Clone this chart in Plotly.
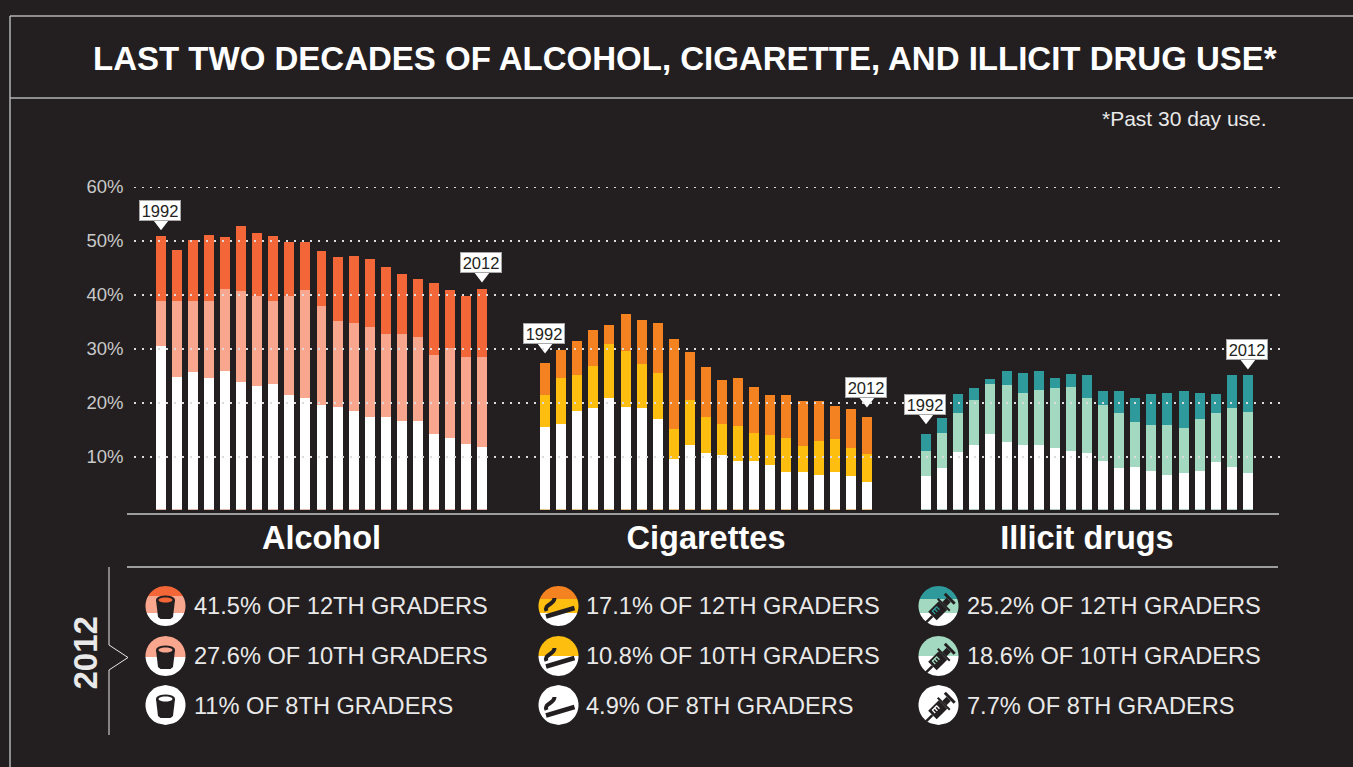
import math
import plotly.graph_objects as go

W, H = 1353, 767
BG = "#231f20"
FONT = "Liberation Sans"

years = list(range(1992, 2013))

alcohol_12 = [50.9,48.3,50.1,51.2,50.7,52.7,51.4,50.9,49.9,49.9,48.1,47.0,47.3,46.6,45.1,43.8,42.9,42.3,41.0,39.9,41.2]
alcohol_10 = [38.8,38.8,38.8,38.8,41.2,40.7,39.9,38.8,39.9,40.9,37.9,35.1,34.8,34.0,32.7,32.7,32.3,28.8,30.1,28.5,28.5]
alcohol_8 = [30.5,24.8,25.7,24.6,26.0,23.8,23.1,23.5,21.4,20.9,19.6,19.2,18.5,17.5,17.5,16.6,16.6,14.2,13.6,12.5,11.8]

cigarettes_12 = [27.5,29.8,31.4,33.6,34.4,36.4,35.3,34.8,31.8,29.4,26.6,24.2,24.6,22.9,21.4,21.4,20.3,20.3,19.4,18.8,17.5]
cigarettes_10 = [21.4,24.6,25.1,26.8,30.9,29.6,27.3,25.5,15.1,20.5,17.5,16.2,15.7,14.4,14.0,13.5,12.0,12.9,13.3,11.6,10.5]
cigarettes_8 = [15.5,16.2,18.5,19.0,21.0,19.2,19.0,17.0,9.6,12.2,10.7,10.3,9.2,9.2,8.6,7.3,7.2,6.6,7.2,6.4,5.3]

illicit_12 = [14.2,17.2,21.6,22.7,24.4,26.0,25.5,25.9,24.6,25.3,25.1,22.3,22.3,21.0,21.6,21.8,22.3,21.8,21.6,25.1,25.1]
illicit_10 = [11.2,14.4,18.1,20.5,23.6,23.3,21.8,22.5,22.7,22.9,20.9,19.6,18.1,16.4,15.9,15.9,15.3,17.0,18.1,19.0,18.3]
illicit_8 = [6.4,7.9,11.0,12.3,14.2,12.7,12.2,12.3,11.6,11.2,10.7,9.2,7.9,8.1,7.5,6.6,7.0,7.5,9.0,8.1,7.0]

panel_names = ["Alcohol", "Cigarettes", "Illicit drugs"]
grade_names = ["12th graders", "10th graders", "8th graders"]
alcohol_legend = ["41.5% OF 12TH GRADERS", "27.6% OF 10TH GRADERS", "11% OF 8TH GRADERS"]
cigarettes_legend = ["17.1% OF 12TH GRADERS", "10.8% OF 10TH GRADERS", "4.9% OF 8TH GRADERS"]
illicit_legend = ["25.2% OF 12TH GRADERS", "18.6% OF 10TH GRADERS", "7.7% OF 8TH GRADERS"]
grid_values = [10, 20, 30, 40, 50, 60]
grid_labels = ["10%", "20%", "30%", "40%", "50%", "60%"]

alcohol_colors = ["#f26638", "#f9a68f", "#ffffff"]
cigarettes_colors = ["#f58220", "#fdbe10", "#ffffff"]
illicit_colors = ["#2f9a9b", "#a3d9c1", "#ffffff"]

PX_PER_UNIT = (509.5 - 187) / (60 - 0.28)


def px(x):
    return x / W


def py(y):
    return 1 - y / H


panels = [
    dict(name=panel_names[0], series=[alcohol_12, alcohol_10, alcohol_8], colors=alcohol_colors,
         legend=alcohol_legend, dom=(153, 490), xaxis="x", icon_x=165.5, text_x=192.3, kind="cup",
         callout_up=(26, 26), bands=[(596, 613), (None, 657), (None, None)]),
    dict(name=panel_names[1], series=[cigarettes_12, cigarettes_10, cigarettes_8], colors=cigarettes_colors,
         legend=cigarettes_legend, dom=(537, 875), xaxis="x2", icon_x=558.5, text_x=584.3, kind="cig",
         callout_up=(29, 29), bands=[(599, 613), (None, 656), (None, None)]),
    dict(name=panel_names[2], series=[illicit_12, illicit_10, illicit_8], colors=illicit_colors,
         legend=illicit_legend, dom=(918, 1256), xaxis="x3", icon_x=938.5, text_x=965.3, kind="syr",
         callout_up=(30, 26), bands=[(599, 613), (None, 656), (None, None)]),
]

fig = go.Figure()
shapes = []
annotations = []


def poly(points, color):
    d = "M " + " L ".join(f"{px(x):.5f},{py(y):.5f}" for x, y in points) + " Z"
    return dict(type="path", xref="paper", yref="paper", path=d, fillcolor=color, line=dict(width=0))


def line_px(x0, y0, x1, y1, color, width, dash="solid", layer="above"):
    return dict(type="line", xref="paper", yref="paper", x0=px(x0), y0=py(y0), x1=px(x1), y1=py(y1),
                line=dict(color=color, width=width, dash=dash), layer=layer)


def disc_band(cx, cy, r, y0, y1, color):
    """Part of the disc between the horizontal lines y0 and y1 (pixels)."""
    y0, y1 = max(y0, cy - r), min(y1, cy + r)
    right, left = [], []
    n = 24
    for i in range(n + 1):
        y = y0 + (y1 - y0) * i / n
        dx = math.sqrt(max(r * r - (y - cy) ** 2, 0))
        right.append((cx + dx, y))
        left.append((cx - dx, y))
    return poly(right + left[::-1], color)


def ellipse_pts(cx, cy, rx, ry):
    return [(cx + rx * math.cos(a / 20 * 2 * math.pi), cy + ry * math.sin(a / 20 * 2 * math.pi)) for a in range(20)]


def thick(x0, y0, x1, y1, w, color):
    dx, dy = x1 - x0, y1 - y0
    n = math.hypot(dx, dy)
    ox, oy = -dy / n * w / 2, dx / n * w / 2
    return poly([(x0 + ox, y0 + oy), (x1 + ox, y1 + oy), (x1 - ox, y1 - oy), (x0 - ox, y0 - oy)], color)


def icon(kind, cx, cy, band_color):
    out = []
    if kind == "cup":
        out.append(poly([(cx - 9.5, cy - 6), (cx + 9.5, cy - 6), (cx + 7.5, cy + 11),
                         (cx + 5, cy + 13), (cx - 5, cy + 13), (cx - 7.5, cy + 11)], BG))
        out.append(poly(ellipse_pts(cx, cy - 6, 9.5, 4.5), BG))
        out.append(poly(ellipse_pts(cx, cy - 6, 7, 2.5), band_color))
    elif kind == "cig":
        out.append(thick(cx - 12.5, cy + 10.5, cx + 16, cy + 2, 4.5, BG))
        c = [(-12, 5), (-15, -2), (-4, -1), (-4, -8)]
        d = (f"M {px(cx + c[0][0]):.5f},{py(cy + c[0][1]):.5f} C "
             + " ".join(f"{px(cx + a):.5f},{py(cy + b):.5f}" for a, b in c[1:]))
        out.append(dict(type="path", xref="paper", yref="paper", path=d, line=dict(color=BG, width=4)))
    else:
        u = 0.7071
        def tr(a, b):
            # a runs along the syringe, from needle to plunger; b across it
            return (cx + 1 + a * u + b * u, cy + 3 - a * u + b * u)
        def seg(a0, a1, w, color=BG):
            p0, p1 = tr(a0, 0), tr(a1, 0)
            return thick(p0[0], p0[1], p1[0], p1[1], w, color)
        out.append(seg(-19, -10, 2.5))
        out.append(seg(-10, 5, 12))
        out.append(seg(5, 7, 17))
        out.append(seg(7, 13, 6))
        out.append(seg(13, 16, 14))
        for a in (-6.5, -3.5, -0.5):
            p0, p1 = tr(a, -3.5), tr(a, 0.5)
            out.append(thick(p0[0], p0[1], p1[0], p1[1], 1.3, band_color))
        p0, p1 = tr(-7, -3.5), tr(0, -3.5)
        out.append(thick(p0[0], p0[1], p1[0], p1[1], 1.3, band_color))
    return out


# bars
for p in panels:
    for vals, col, grade in zip(p["series"], p["colors"], grade_names):
        fig.add_trace(go.Bar(x=years, y=vals, marker=dict(color=col, line=dict(width=0)), width=0.62,
                             name=f"{p['name']} – {grade}", xaxis=p["xaxis"], yaxis="y", showlegend=False))
    top = p["series"][0]
    pts = ((years[0], top[0], p["callout_up"][0]), (years[-1], top[-1], p["callout_up"][1]))
    # callout pointers sit just above the bar tops
    fig.add_trace(go.Scatter(x=[a for a, _, _ in pts], y=[v + (up - 13) / PX_PER_UNIT for _, v, up in pts],
                             mode="markers", marker=dict(symbol="triangle-down", size=14, color="#ffffff",
                                                         line=dict(width=0)),
                             xaxis=p["xaxis"], yaxis="y", showlegend=False, hoverinfo="skip"))
    for yr, v, up in pts:
        annotations.append(dict(
            x=yr, y=v, xref=p["xaxis"], yref="y", yshift=up, xshift=-1, showarrow=False, text=str(yr),
            bgcolor="#ffffff", bordercolor="#a8a8a8", borderwidth=1, borderpad=0, width=40, height=19,
            font=dict(family=FONT, size=16.5, color=BG), align="center", xanchor="center", yanchor="middle"))

# dotted reference lines, above the bars
for v in grid_values:
    shapes.append(dict(type="line", xref="paper", yref="y", x0=px(134), x1=px(1280), y0=v, y1=v,
                       line=dict(color="#dcdcdc", width=1.8, dash="2px,6px"), layer="above"))

# frame and rules
frame_col = "#b4b4b4"
shapes += [
    line_px(10, 16, W, 16, frame_col, 1.5),
    line_px(10, 98, W, 98, frame_col, 1.5),
    line_px(10, 16, 10, H, frame_col, 1.5),
    line_px(127, 514, 1279, 514, "#c8c8c8", 1.5),
    line_px(127, 567, 1278, 567, "#c8c8c8", 1.5),
]
# bracket next to "2012"
for a, b in (((109, 567), (109, 645)), ((109, 645), (128, 657.5)), ((128, 657.5), (109, 670)), ((109, 670), (109, 735))):
    shapes.append(line_px(a[0], a[1], b[0], b[1], "#e8e8e8", 1))

# legend rows
row_y = [606, 656, 705]
text_y = [606, 656, 706]
for p in panels:
    for i, (label, cy, ty) in enumerate(zip(p["legend"], row_y, text_y)):
        cx = p["icon_x"]
        r = 20
        b1, b2 = p["bands"][i]
        if i == 0:
            shapes.append(disc_band(cx, cy, r, cy - r, b1, p["colors"][0]))
            shapes.append(disc_band(cx, cy, r, b1, b2, p["colors"][1]))
            shapes.append(disc_band(cx, cy, r, b2, cy + r, "#ffffff"))
        elif i == 1:
            shapes.append(disc_band(cx, cy, r, cy - r, b2, p["colors"][1]))
            shapes.append(disc_band(cx, cy, r, b2, cy + r, "#ffffff"))
        else:
            shapes.append(disc_band(cx, cy, r, cy - r, cy + r, "#ffffff"))
        shapes += icon(p["kind"], cx, cy, p["colors"][i])
        annotations.append(dict(x=px(p["text_x"]), y=py(ty), xref="paper", yref="paper", text=label,
                                showarrow=False, xanchor="left", yanchor="middle",
                                font=dict(family=FONT, size=23.6, color="#e9e9e9")))

annotations += [
    dict(x=px(685.5), y=py(59), xref="paper", yref="paper", text="<b>LAST TWO DECADES OF ALCOHOL, CIGARETTE, AND ILLICIT DRUG USE*</b>",
         showarrow=False, xanchor="center", yanchor="middle", font=dict(family=FONT, size=33, color="#ffffff")),
    dict(x=px(1268.5), y=py(119), xref="paper", yref="paper", text="*Past 30 day use.", showarrow=False,
         xanchor="right", yanchor="middle", font=dict(family=FONT, size=21, color="#e9e9e9")),
    dict(x=px(85), y=py(653.5), xref="paper", yref="paper", text="<b>2012</b>", textangle=-90, showarrow=False,
         xanchor="center", yanchor="middle", font=dict(family=FONT, size=33, color="#e9e9e9")),
]

layout = dict(
    width=W, height=H, margin=dict(l=0, r=0, t=0, b=0, pad=0, autoexpand=False), paper_bgcolor=BG, plot_bgcolor=BG,
    barmode="overlay", bargap=0, showlegend=False, shapes=shapes, annotations=annotations,
    font=dict(family=FONT),
    yaxis=dict(domain=[py(509.5), py(187)], range=[0.28, 60], anchor="free", position=px(123.5),
               tickvals=grid_values, ticktext=grid_labels, showgrid=False, zeroline=False, showline=False,
               ticks="", tickfont=dict(family=FONT, size=18.5, color="#c9c9c9")),
)
for i, p in enumerate(panels):
    key = "xaxis" if i == 0 else f"xaxis{i + 1}"
    layout[key] = dict(domain=[px(p["dom"][0]), px(p["dom"][1])], range=[1991.5, 2012.5], anchor="y",
                       tickvals=[2002], ticktext=[f"<b>{p['name']}</b>"], ticks="", showgrid=False,
                       zeroline=False, showline=False, ticklabelstandoff=6,
                       tickfont=dict(family=FONT, size=32.5, color="#ffffff"))
fig.update_layout(**layout)

fig.write_html("out.html", config={"displayModeBar": False},
               post_script="document.body.style.margin='0';document.body.style.overflow='hidden';")
